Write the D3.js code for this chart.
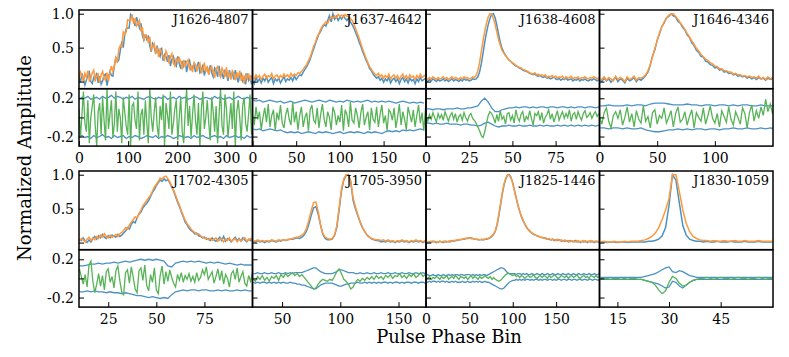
<!DOCTYPE html>
<html>
<head>
<meta charset="utf-8">
<script src="https://cdn.jsdelivr.net/npm/d3@7"></script>
<style>
  body { margin: 0; background: #fff; }
  svg text { font-family: "DejaVu Serif", serif; fill: #000; }
</style>
</head>
<body>
<div id="profiles"></div>
<script>

// Set dimensions and layout of the 2 x 4 grid of panels
const width = 789;
const height = 357;
const margin = {left: 79, top: 10};
const colWidth = 173.5;
const profHeight = 78.7;
const resHeight = 57.4;
const rowStep = 161;
const tickLen = 5;

const blue = "#4b92c3";
const orange = "#ff993e";
const green = "#56b356";

/*

  Data (profile values in hundredths of the peak)

*/

const names = ["J1626-4807", "J1637-4642", "J1638-4608", "J1646-4346",
               "J1702-4305", "J1705-3950", "J1825-1446", "J1830-1059"];
const binStart = [0, 0, 0, 0, 10, 25, 0, 10];
const binStep = [3, 2, 1, 2, 1, 2, 2, 1];
const envStep = [6, 4, 2, 4, 2, 2, 2, 1];
const xDomains = [[0, 353], [0, 198.5], [0, 100.4], [0, 150.4], [9.8, 100], [24.6, 173.6], [0, 200], [9.8, 60.2]];
const xTicks = [[0, 100, 200, 300], [0, 50, 100, 150], [0, 25, 50, 75], [0, 50, 100],
                [25, 50, 75], [50, 100, 150], [0, 50, 100, 150], [15, 30, 45]];
const profTicks = [0, 0.5, 1.0];
const resTicks = [-0.2, 0, 0.2];

// J1626-4807
const blue1 = [7,-1,12,5,-5,2,10,14,0,-3,6,3,13,-2,8,-4,1,9,11,-6,
  6,15,9,8,24,35,29,32,46,59,50,69,78,79,79,99,96,90,82,95,
  88,79,86,68,61,70,62,66,53,44,56,51,41,53,42,37,50,31,40,37,
  29,39,23,33,37,27,23,37,27,19,30,23,31,14,26,31,18,21,26,14,
  22,29,13,16,25,9,18,21,11,24,13,7,20,17,7,23,8,12,4,16,
  13,1,17,7,13,3,17,7,-1,10,12,1,6,-4,12,2,7,-4];
const orange1 = [3,14,9,-1,12,6,16,1,4,13,17,0,8,11,-2,10,15,5,2,13,
  1,13,23,15,23,36,28,48,53,51,73,69,73,91,90,90,99,85,93,82,
  85,90,74,80,61,69,68,57,66,47,52,56,43,49,36,49,42,37,32,45,
  39,27,36,41,27,23,35,28,35,30,18,32,23,29,32,19,23,14,28,25,
  15,23,27,12,18,28,14,23,10,18,22,13,6,19,22,12,7,20,15,7,
  21,7,12,3,16,12,2,14,6,16,1,10,-3,10,5,12,1,9];
const resid1 = [9,-21,3,27,-6,-15,18,-27,0,12,24,-9,-30,6,15,-18,21,-3,-24,30,
  -12,3,18,-21,-6,27,-15,9,0,-27,21,6,-9,-18,24,-30,12,15,-3,-12,
  27,-24,3,9,-18,18,-6,-27,30,0,-15,6,21,-9,-21,12,-3,24,-30,15,
  3,-12,27,-18,-6,9,18,-24,0,21,-15,-27,6,30,-9,12,-21,3,24,-3,
  -18,15,-30,9,27,-12,0,18,-6,-24,21,6,-15,12,-27,3,30,-9,-18,24,
  9,-21,-3,15,-12,27,-30,6,18,0,-24,12,21,-6,-15,3,24,-18];
const hi1 = [19,21,20,22,19,20,21,19,22,20,21,23,20,22,21,19,21,20,22,19,
  21,20,19,21,22,20,19,21,20,22,19,20,21,19,22,20,21,19,20,22,
  21,19,20,21,20,19,22,20,21,19,20,21,19,20,22,20,19,21,20,21];
const lo1 = [-20,-19,-21,-20,-22,-19,-21,-20,-18,-21,-20,-22,-19,-21,-20,-19,-22,-20,-21,-19,
  -20,-22,-21,-19,-20,-21,-19,-22,-20,-21,-19,-20,-22,-21,-19,-20,-21,-20,-22,-19,
  -21,-20,-19,-21,-22,-20,-19,-21,-20,-22,-19,-21,-20,-19,-21,-20,-22,-19,-21,-20];

// J1637-4642
const blue2 = [2,-3,6,0,4,-2,5,1,7,-1,3,6,-3,4,1,5,-2,3,7,0,
  4,2,6,1,8,3,7,10,9,14,18,22,27,33,41,48,56,63,70,74,
  80,84,82,90,97,88,100,92,96,90,95,92,97,93,90,94,88,84,79,72,
  66,58,52,44,38,31,26,19,16,11,8,5,7,2,5,-1,4,1,6,-2,
  3,5,0,4,-3,3,6,0,4,-2,5,1,3,-3,4,0,6,1,3,5];
const orange2 = [7,4,10,6,9,3,8,11,5,9,7,12,4,8,10,5,9,6,11,7,
  10,6,12,8,11,9,13,12,15,18,22,25,31,36,44,52,58,66,71,77,
  82,85,88,86,92,95,93,97,94,99,96,98,95,99,96,97,93,90,85,78,
  71,64,56,48,41,34,28,22,18,14,11,9,12,7,10,5,9,6,11,4,
  8,10,5,9,3,8,11,5,9,4,10,6,8,3,9,5,11,6,8,10];
const resid2 = [3,-8,11,-2,6,-13,0,10,-5,14,-10,2,8,-14,5,-3,13,-6,-11,3,
  10,-2,-8,16,-5,6,-13,2,11,-10,0,5,-14,8,13,-3,-6,10,-11,3,
  14,-2,-10,6,0,-13,11,5,-8,2,-5,13,-14,8,3,-10,16,-3,-6,10,
  2,-11,5,14,-8,0,6,-13,10,-2,-5,11,-10,3,13,-6,2,-14,8,5,
  -3,10,-11,0,14,-8,6,-2,-13,11,3,-5,8,-10,2,13,-6,5,-14,10];
const hi2 = [18,17,18,16,17,18,17,16,17,15,16,17,15,16,17,18,17,16,17,18,
  17,16,18,17,16,17,16,18,17,16,17,16,17,18,16,17,16,17,16,17,
  16,15,16,17,16,15,16,15,16,15];
const lo2 = [-12,-13,-12,-14,-13,-12,-13,-14,-13,-15,-16,-15,-16,-15,-17,-16,-15,-16,-17,-15,
  -16,-15,-16,-17,-16,-15,-17,-16,-15,-16,-15,-16,-17,-15,-16,-15,-16,-17,-15,-14,
  -15,-14,-15,-13,-14,-13,-14,-13,-12,-13];

// J1638-4608
const blue3 = [2,0,3,1,4,2,0,3,1,2,4,1,3,0,2,4,1,3,2,0,
  3,1,4,2,3,1,2,4,3,4,7,14,26,42,58,72,84,93,99,100,
  94,83,70,58,49,43,39,35,32,30,27,25,23,22,20,19,17,16,15,14,
  12,11,10,11,9,8,9,7,6,8,5,6,4,5,7,4,3,5,2,4,
  3,5,2,3,4,1,3,2,4,1,3,2,4,2,1,3,2,4,3,1,3];
const orange3 = [5,3,6,4,7,5,3,6,4,5,7,4,6,3,5,7,4,6,5,3,
  6,4,7,5,6,4,5,7,6,9,16,28,44,60,74,86,95,100,99,93,
  84,73,62,53,46,42,38,35,32,30,28,26,24,22,21,20,18,17,16,15,
  13,12,11,13,10,11,9,10,8,10,6,8,7,9,6,8,5,7,6,8,
  4,7,5,6,8,4,6,5,7,4,6,5,7,5,4,6,5,7,6,4,6];
const resid3 = [2,-4,3,-2,5,0,-5,4,-1,3,-3,6,1,-4,2,5,-2,4,-5,1,
  3,-3,5,0,-4,2,4,-1,-3,-6,-10,-14,-19,-21,-15,-6,2,6,4,0,
  -6,3,-4,7,-2,1,-7,4,5,-3,2,-6,8,0,-4,3,6,-5,1,-2,
  7,-1,-8,4,2,6,-3,5,-6,0,3,8,-2,4,-5,1,7,-3,2,6,
  -1,4,0,8,-4,3,5,-2,6,1,-3,4,7,0,2,5,-1,3,6,1,4];
const hi3 = [9,9,8,9,9,8,9,9,9,10,9,9,10,10,11,12,17,20,16,10,
  6,6,8,9,10,10,11,10,11,11,10,11,10,11,11,10,11,11,10,11,
  11,10,11,10,11,11,10,11,11,10,11];
const lo3 = [-6,-6,-7,-6,-7,-7,-6,-7,-7,-7,-8,-7,-7,-8,-8,-9,-8,-6,-5,-7,
  -9,-10,-9,-9,-8,-9,-9,-8,-9,-9,-8,-9,-9,-8,-9,-8,-9,-9,-8,-9,
  -8,-9,-8,-9,-8,-9,-8,-9,-8,-9,-8];

// J1646-4346
const blue4 = [3,0,5,1,4,-1,3,6,0,4,2,-2,5,1,3,6,0,4,2,5,
  9,14,24,38,47,61,70,81,86,94,96,100,97,95,89,86,80,76,69,65,
  57,53,46,43,37,36,30,29,25,24,20,21,17,18,14,15,12,13,10,11,
  8,9,7,8,5,7,4,6,3,6,4,5,2,5,3,4];
const orange4 = [5,3,7,2,6,4,1,8,3,6,4,0,7,3,5,8,2,6,5,7,
  10,16,25,37,49,60,72,80,88,93,98,99,100,96,92,87,82,77,71,66,
  60,55,49,45,40,37,33,31,28,26,23,22,19,19,16,16,14,14,11,12,
  10,10,8,9,7,8,6,7,5,8,4,6,3,7,4,6];
const resid4 = [1,-7,5,10,-4,-11,2,6,-1,8,-8,0,11,-5,4,-10,7,-2,-6,12,
  -4,1,-11,5,8,-7,2,-1,10,-6,0,7,-10,4,11,-5,-2,6,-8,1,
  8,-11,5,0,-4,10,-7,2,12,-1,-6,4,-10,7,1,-5,11,-2,-8,6,
  0,-7,10,4,-11,5,13,-4,7,-1,11,2,19,6,14,4];
const hi4 = [12,12,13,12,12,12,13,12,13,13,12,14,15,15,15,14,13,13,13,14,
  13,13,12,13,13,12,13,13,12,13,12,13,13,12,12,13,12,12,13];
const lo4 = [-11,-11,-12,-11,-11,-12,-11,-12,-12,-11,-13,-14,-15,-15,-14,-13,-13,-12,-13,-12,
  -13,-12,-12,-13,-12,-12,-13,-12,-12,-11,-12,-12,-11,-12,-12,-11,-12,-11,-12];

// J1702-4305
const blue5 = [5,3,7,2,0,4,1,6,9,5,10,7,12,8,6,10,7,11,9,8,
  12,9,11,14,17,22,20,27,31,29,37,42,45,51,55,58,62,68,74,78,
  84,88,92,90,94,91,93,88,82,76,68,60,53,45,38,30,26,21,18,16,
  13,14,10,9,7,8,5,6,3,7,4,2,5,8,3,9,2,6,4,1,
  5,8,3,6,2,7,4,1,5,3,6];
const orange5 = [2,6,4,1,5,8,3,7,4,9,6,11,8,13,9,7,11,8,10,12,
  9,13,15,18,22,20,26,30,34,38,36,43,48,54,58,62,66,70,76,82,
  86,90,95,93,97,98,94,90,83,77,70,62,55,47,40,33,28,24,20,17,
  15,12,13,10,8,6,7,4,6,3,5,7,2,4,6,1,5,3,7,2,
  4,6,1,5,3,4,7,2,4,6,3];
const resid5 = [10,2,-6,4,-9,14,18,-3,-15,-6,5,-8,3,-12,7,10,-4,2,-10,8,
  13,-2,-14,-17,6,9,-5,12,1,-11,-15,8,11,-2,14,-7,-13,4,-4,11,
  -12,-16,3,13,-6,7,-3,9,1,-5,-9,4,-2,6,-4,3,-1,5,-3,2,
  -4,6,-2,1,9,4,12,-1,3,7,-5,2,10,-2,8,-6,4,0,-9,5,
  8,-1,11,-4,2,7,-5,-8,3,-3,6];
const hi5 = [13,13,14,15,15,16,15,16,16,17,16,17,18,17,18,19,20,19,20,19,
  20,19,18,13,12,16,17,18,17,18,17,18,17,16,17,16,17,16,15,16,
  15,14,15,14,14,14];
const lo5 = [-14,-14,-13,-14,-13,-14,-14,-15,-14,-15,-15,-16,-15,-16,-17,-18,-18,-19,-20,-19,
  -20,-21,-20,-21,-17,-14,-13,-12,-13,-12,-12,-13,-12,-12,-13,-13,-12,-13,-12,-13,
  -13,-12,-13,-12,-13,-13];

// J1705-3950
const blue6 = [2,1,3,1,2,0,2,1,3,2,1,3,2,4,3,4,5,5,6,7,
  6,8,11,17,27,40,51,53,42,26,12,6,4,4,5,10,22,48,76,92,
  99,100,89,62,50,40,30,22,16,11,8,5,4,3,3,1,2,1,3,1,
  2,0,2,1,3,1,2,0,2,1,3,1,2,0,2];
const orange6 = [3,2,4,2,3,2,3,2,4,3,2,4,3,4,3,5,5,6,7,8,
  9,11,14,21,33,47,59,60,46,27,13,8,6,5,6,11,25,52,79,94,
  100,99,91,66,53,41,31,23,16,11,8,6,5,4,4,3,4,2,4,2,
  3,1,3,2,4,2,3,1,3,2,4,2,3,1,3];
const resid6 = [0,-3,2,-1,3,-2,1,-3,2,0,3,-2,4,1,5,2,4,6,3,5,
  2,4,1,-2,-5,-8,-11,-10,-6,-3,-1,-2,-3,-1,-2,2,7,10,5,-1,
  -3,-6,-11,-9,-4,-1,-3,0,-2,1,-1,2,-1,3,0,2,-1,3,1,4,
  0,3,2,5,1,3,0,4,2,5,1,3,6,2,4];
const hi6 = [5,5,6,5,5,6,5,5,6,5,5,6,5,5,6,5,6,5,6,6,
  6,6,7,8,9,10,11,11,9,7,6,5,5,5,5,6,7,9,9,8,
  7,6,6,6,5,5,6,5,5,6,5,5,6,5,5,6,5,5,6,5,
  5,6,5,5,6,5,5,6,5,5,6,5,5,6,5];
const lo6 = [-4,-5,-4,-5,-4,-4,-5,-4,-5,-4,-5,-4,-5,-4,-5,-5,-4,-5,-5,-6,
  -6,-7,-7,-8,-9,-10,-11,-11,-9,-7,-6,-5,-5,-5,-5,-6,-7,-8,-8,-7,
  -6,-6,-5,-5,-5,-4,-5,-5,-4,-5,-4,-5,-4,-5,-4,-5,-4,-4,-5,-4,
  -5,-4,-4,-5,-4,-5,-4,-4,-5,-4,-4,-5,-4,-4,-5];

// J1825-1446
const blue7 = [1,0,1,0,2,1,0,1,2,1,0,2,1,2,1,3,2,3,3,4,
  4,5,5,6,6,7,6,6,5,5,4,4,5,4,5,5,6,7,9,12,
  17,26,40,56,72,85,94,99,100,96,88,77,66,55,46,38,32,27,22,19,
  16,14,12,11,10,9,8,7,7,6,5,5,4,5,3,4,3,4,2,3,
  2,3,1,3,2,1,3,1,2,0,2,1,2,0,2,1,2,0,2,1,2];
const orange7 = [2,1,0,2,1,2,1,0,2,1,2,1,2,1,3,2,3,3,4,4,
  5,5,6,6,7,6,7,6,5,5,5,4,4,5,5,6,6,8,10,13,
  18,28,42,58,74,87,95,100,99,95,87,76,65,55,46,39,33,27,23,19,
  17,14,13,11,10,9,8,8,6,7,5,6,4,5,4,3,5,3,4,2,
  4,2,3,1,3,2,1,3,1,2,1,3,1,2,1,3,1,2,1,2,1];
const resid7 = [1,0,2,-1,1,0,2,1,-1,2,0,1,3,-1,1,2,0,3,1,-1,
  2,1,0,2,-1,1,3,0,2,1,-1,2,0,1,3,1,0,2,-1,1,
  -1,-2,-3,-2,0,2,4,5,5,4,3,4,2,3,1,3,2,0,2,3,
  1,2,4,1,0,2,3,1,3,2,0,3,1,2,4,2,0,1,3,2,
  1,3,0,2,3,1,2,4,1,0,2,3,1,2,0,3,2,1,3,1,2];
const hi7 = [3,4,3,3,4,3,3,4,3,3,4,3,3,4,3,4,3,4,4,3,
  4,4,3,4,4,4,3,4,3,4,3,4,3,4,4,3,4,5,6,7,
  8,9,10,11,11,10,8,6,5,5,5,5,4,5,5,4,5,4,5,4,
  4,5,4,4,5,4,4,5,4,4,5,4,4,5,4,4,5,4,4,5,
  4,4,5,4,4,5,4,4,5,4,4,5,4,4,5,4,4,5,4,4,5];
const lo7 = [-3,-4,-3,-4,-3,-3,-4,-3,-4,-3,-3,-4,-3,-4,-4,-3,-4,-3,-4,-4,
  -4,-3,-4,-4,-3,-4,-4,-3,-4,-3,-4,-3,-4,-4,-3,-4,-4,-5,-6,-7,
  -8,-9,-10,-11,-11,-10,-8,-6,-4,-3,-2,-2,-1,-2,-1,-2,-1,-2,-1,-1,
  -2,-1,-2,-1,-1,-2,-1,-2,-1,-1,-2,-1,-1,-2,-1,-2,-1,-1,-2,-1,
  -1,-2,-1,-1,-2,-1,-1,-2,-1,-1,-2,-1,-1,-2,-1,-1,-2,-1,-1,-2,-1];

// J1830-1059
const blue8 = [1,1,0,1,1,0,1,1,0,1,1,1,1,1,2,2,3,5,10,22,
  55,100,92,58,25,11,5,3,2,2,1,2,1,1,2,1,1,1,2,1,
  1,1,2,1,1,1,2,1,1,1,1];
const orange8 = [1,2,1,1,2,1,1,2,1,2,2,2,3,4,6,9,14,22,34,48,
  65,100,100,75,48,28,16,9,6,4,3,3,2,3,2,2,3,2,2,3,
  2,2,3,2,2,2,3,2,2,2,2];
const resid8 = [0,-1,0,-1,0,0,-1,0,-1,0,0,-1,-1,-2,-3,-4,-7,-12,-16,-13,
  -4,2,0,-5,-8,-7,-4,-2,-1,0,0,1,0,-1,0,1,0,0,-1,0,
  1,0,0,-1,0,0,1,0,-1,0,0];
const hi8 = [1,1,1,1,1,1,1,1,1,1,1,1,1,2,3,4,5,7,9,11,
  12,7,6,8,7,5,3,2,1,1,1,1,1,1,1,1,1,1,1,1,
  1,1,1,1,1,1,1,1,1,1,1];
const lo8 = [-1,-1,-1,-1,-1,-1,-1,-1,-1,-1,-1,-1,-1,-2,-3,-4,-5,-6,-8,-10,
  -9,-3,-4,-8,-10,-7,-4,-2,-1,-1,-1,-1,-1,-1,-1,-1,-1,-1,-1,-1,
  -1,-1,-1,-1,-1,-1,-1,-1,-1,-1,-1];

// Table of panels built from the arrays above
const blues = [blue1, blue2, blue3, blue4, blue5, blue6, blue7, blue8];
const oranges = [orange1, orange2, orange3, orange4, orange5, orange6, orange7, orange8];
const resids = [resid1, resid2, resid3, resid4, resid5, resid6, resid7, resid8];
const his = [hi1, hi2, hi3, hi4, hi5, hi6, hi7, hi8];
const los = [lo1, lo2, lo3, lo4, lo5, lo6, lo7, lo8];

const svg = d3.select("#profiles")
  .append("svg")
  .attr("width", width)
  .attr("height", height)
  .attr("viewBox", [0, 0, width, height]);

const defs = svg.append("defs");

names.forEach((name, k) => {
  const col = k % 4;
  const row = Math.floor(k / 4);
  const x0 = margin.left + col * colWidth;
  const y0 = margin.top + row * rowStep;
  const yMid = y0 + profHeight;
  const yBot = yMid + resHeight;

  // Scales for this panel
  const xScale = d3.scaleLinear().domain(xDomains[k]).range([x0, x0 + colWidth]);
  const yProf = d3.scaleLinear().domain([-0.105, 1.055]).range([yMid, y0]);
  const yRes = d3.scaleLinear().domain([-0.3, 0.3]).range([yBot, yMid]);

  // Clip the curves to each box
  defs.append("clipPath").attr("id", "cp" + k)
    .append("rect").attr("x", x0).attr("y", y0).attr("width", colWidth).attr("height", profHeight);
  defs.append("clipPath").attr("id", "cr" + k)
    .append("rect").attr("x", x0).attr("y", yMid).attr("width", colWidth).attr("height", resHeight);

  const profLine = d3.line()
    .x((d, i) => xScale(binStart[k] + i * binStep[k]))
    .y(d => yProf(d / 100));
  const resLine = d3.line()
    .x((d, i) => xScale(binStart[k] + i * binStep[k]))
    .y(d => yRes(d / 100));
  const envLine = d3.line()
    .x((d, i) => xScale(binStart[k] + i * envStep[k]))
    .y(d => yRes(d / 100));

  const gp = svg.append("g").attr("clip-path", `url(#cp${k})`);
  gp.append("path").datum(blues[k]).attr("d", profLine)
    .attr("fill", "none").attr("stroke", blue).attr("stroke-width", 1.5);
  gp.append("path").datum(oranges[k]).attr("d", profLine)
    .attr("fill", "none").attr("stroke", orange).attr("stroke-width", 1.5);

  const gr = svg.append("g").attr("clip-path", `url(#cr${k})`);
  [his[k], los[k]].forEach(env => {
    gr.append("path").datum(env).attr("d", envLine)
      .attr("fill", "none").attr("stroke", blue).attr("stroke-width", 1.3);
  });
  gr.append("path").datum(resids[k]).attr("d", resLine)
    .attr("fill", "none").attr("stroke", green).attr("stroke-width", 1.3);

  // Axes with inward ticks; labels only on the first column
  const fmt = d => (col === 0 && d !== 0) ? d.toFixed(1) : "";
  svg.append("g")
    .attr("transform", `translate(${x0},0)`)
    .call(d3.axisLeft(yProf).tickValues(profTicks).tickFormat(fmt)
      .tickSizeInner(-tickLen).tickSizeOuter(0).tickPadding(5))
    .attr("font-size", 14).attr("font-family", "DejaVu Serif")
    .call(g => g.select(".domain").remove());
  svg.append("g")
    .attr("transform", `translate(${x0},0)`)
    .call(d3.axisLeft(yRes).tickValues(resTicks).tickFormat(fmt)
      .tickSizeInner(-tickLen).tickSizeOuter(0).tickPadding(5))
    .attr("font-size", 14).attr("font-family", "DejaVu Serif")
    .call(g => g.select(".domain").remove());
  svg.append("g")
    .attr("transform", `translate(0,${yBot})`)
    .call(d3.axisBottom(xScale).tickValues(xTicks[k]).tickFormat(d3.format("d"))
      .tickSizeInner(-tickLen).tickSizeOuter(0).tickPadding(7))
    .attr("font-size", 14).attr("font-family", "DejaVu Serif")
    .call(g => g.select(".domain").remove());

  // Frames
  svg.append("rect").attr("x", x0).attr("y", y0).attr("width", colWidth).attr("height", profHeight)
    .attr("fill", "none").attr("stroke", "#000").attr("stroke-width", 1.5);
  svg.append("rect").attr("x", x0).attr("y", yMid).attr("width", colWidth).attr("height", resHeight)
    .attr("fill", "none").attr("stroke", "#000").attr("stroke-width", 1.5);

  // Pulsar name
  svg.append("text")
    .attr("x", x0 + colWidth - 4)
    .attr("y", y0 + 13.5)
    .attr("text-anchor", "end")
    .attr("font-size", 13)
    .text(name);
});

// Axis titles
svg.append("text")
  .attr("transform", "translate(31,158) rotate(-90)")
  .attr("text-anchor", "middle")
  .attr("font-size", 18)
  .text("Normalized Amplitude");

svg.append("text")
  .attr("x", 449)
  .attr("y", 343)
  .attr("text-anchor", "middle")
  .attr("font-size", 18)
  .text("Pulse Phase Bin");

</script>
</body>
</html>
